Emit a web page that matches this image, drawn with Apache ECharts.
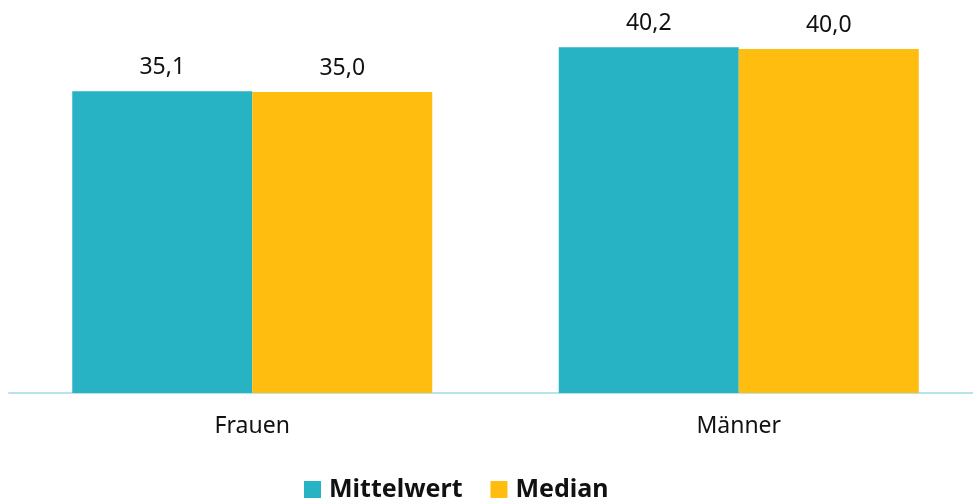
<!DOCTYPE html>
<html>
<head>
<meta charset="utf-8">
<script src="https://cdn.jsdelivr.net/npm/echarts@6/dist/echarts.min.js"></script>
<style>
  html, body { margin: 0; padding: 0; background: #ffffff; }
  #chart { width: 973px; height: 499px; }
</style>
</head>
<body>
<div id="chart"></div>
<script>
// Groups and values (hours per week)
const categories = ['Frauen', 'Männer'];
const seriesNames = ['Mittelwert', 'Median'];
const mittelwert = [35.1, 40.2];
const median = [35.0, 40.0];

const colors = ['#28B3C5', '#FFBD0F'];
const fontFamily = '"Source Sans Pro", "Noto Sans", "Open Sans", sans-serif';

function fmt(v) {
  return v.toFixed(1).replace('.', ',');
}

const chart = echarts.init(document.getElementById('chart'));
chart.setOption({
  animation: false,
  color: colors,
  grid: { left: 9, top: 6, right: -9, bottom: 106, containLabel: false, outerBoundsMode: 'none' },
  legend: {
    top: 477,
    left: 304,
    padding: 0,
    itemWidth: 17,
    itemHeight: 17,
    itemGap: 28,
    icon: 'rect',
    textStyle: { fontFamily, fontSize: 25, fontWeight: 'bold', color: '#111', padding: [0, 0, 0, 3] },
    data: seriesNames
  },
  xAxis: {
    type: 'category',
    data: categories,
    axisLine: { lineStyle: { color: '#B8E3EC', width: 2 } },
    axisTick: { show: false },
    axisLabel: { fontFamily, fontSize: 23, color: '#111', margin: 22 }
  },
  yAxis: {
    type: 'value',
    min: 0,
    max: 45,
    show: false,
    splitLine: { show: false }
  },
  series: [
    {
      name: seriesNames[0],
      type: 'bar',
      data: mittelwert,
      barWidth: 180,
      barGap: '0%',
      label: { show: true, position: 'top', distance: 12, fontFamily, fontSize: 23, color: '#111', formatter: p => fmt(p.value) }
    },
    {
      name: seriesNames[1],
      type: 'bar',
      data: median,
      barWidth: 180,
      barGap: '0%',
      label: { show: true, position: 'top', distance: 12, fontFamily, fontSize: 23, color: '#111', formatter: p => fmt(p.value) }
    }
  ]
});
</script>
</body>
</html>
